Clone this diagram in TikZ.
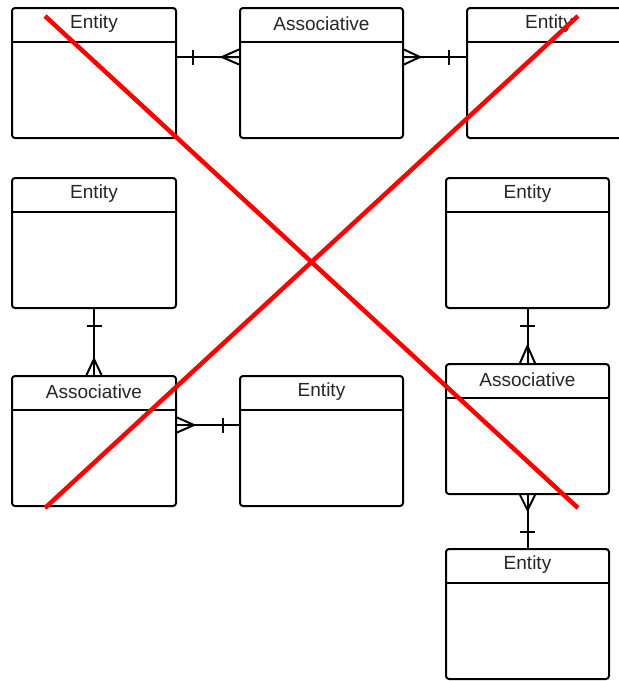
\documentclass[tikz,border=0pt]{standalone}
\usepackage{fontspec}
\setmainfont{Liberation Sans}
\usepackage{tikz}
\usetikzlibrary{calc}

\tikzset{
    erbox/.style={draw, line width=2pt, rounded corners=3pt, minimum width=164pt, minimum height=130pt,
        path picture={\draw[line width=2pt] ([yshift=-33.5pt]path picture bounding box.north west) -- ([yshift=-33.5pt]path picture bounding box.north east);}},
    ertitle/.style={anchor=center, font=\fontsize{19}{22}\selectfont, text=black!85},
    rel/.style={line width=2pt},
    cross/.style={line width=4.5pt, red}
}

\begin{document}
\begin{tikzpicture}[x=1pt, y=-1pt]
    \clip (0,0) rectangle (619,681);
    \fill[white] (0,0) rectangle (619,681);

    % Boxes
    \node[erbox] (e1) at (94,73) {};
    \node[erbox, minimum width=163pt] (a1) at (321.5,73) {};
    \node[erbox] (e2) at (549,73) {};
    \node[erbox] (e3) at (94,243) {};
    \node[erbox] (a2) at (94,441) {};
    \node[erbox, minimum width=163pt] (e4) at (321.5,441) {};
    \node[erbox, minimum width=163pt] (e5) at (527.5,243) {};
    \node[erbox, minimum width=163pt] (a3) at (527.5,429) {};
    \node[erbox, minimum width=163pt] (e6) at (527.5,614) {};

    % Titles
    \node[ertitle] at ([yshift=-16.5pt]e1.north) {Entity};
    \node[ertitle] at ([yshift=-16.5pt]a1.north) {Associative};
    \node[ertitle] at ([yshift=-16.5pt]e2.north) {Entity};
    \node[ertitle] at ([yshift=-16.5pt]e3.north) {Entity};
    \node[ertitle] at ([yshift=-16.5pt]a2.north) {Associative};
    \node[ertitle] at ([yshift=-16.5pt]e4.north) {Entity};
    \node[ertitle] at ([yshift=-16.5pt]e5.north) {Entity};
    \node[ertitle] at ([yshift=-16.5pt]a3.north) {Associative};
    \node[ertitle] at ([yshift=-16.5pt]e6.north) {Entity};

    % Top row links
    \coordinate (p1) at ([yshift=16pt]e1.east);
    \coordinate (q1) at ([yshift=16pt]a1.west);
    \draw[rel] (p1) -- (q1);
    \draw[rel] ([xshift=16pt]p1) ++(0,-7.5) -- ++(0,15);
    \draw[rel] (q1) -- ++(-17,0) -- ++(17,-7.5);
    \draw[rel] (q1) ++(-17,0) -- ++(17,7.5);

    \coordinate (p2) at ([yshift=16pt]a1.east);
    \coordinate (q2) at ([yshift=16pt]e2.west);
    \draw[rel] (p2) -- (q2);
    \draw[rel] (p2) -- ++(16,0) -- ++(-16,-7.5);
    \draw[rel] (p2) ++(16,0) -- ++(-16,7.5);
    \draw[rel] ([xshift=-17pt]q2) ++(0,-7.5) -- ++(0,15);

    % Left column link
    \draw[rel] (e3.south) -- (a2.north);
    \draw[rel] ([yshift=-17pt]e3.south) ++(-7.5,0) -- ++(15,0);
    \draw[rel] (a2.north) ++(-7.5,0) -- ++(7.5,-16) -- ++(7.5,16);

    % Middle row link
    \coordinate (p3) at ([yshift=16pt]a2.east);
    \coordinate (q3) at ([yshift=16pt]e4.west);
    \draw[rel] (p3) -- (q3);
    \draw[rel] (p3) ++(0,-7.5) -- ++(17,7.5) -- ++(-17,7.5);
    \draw[rel] ([xshift=-16pt]q3) ++(0,-7.5) -- ++(0,15);

    % Right column links
    \draw[rel] (e5.south) -- (a3.north);
    \draw[rel] ([yshift=-17pt]e5.south) ++(-7.5,0) -- ++(15,0);
    \draw[rel] (a3.north) ++(-7.5,0) -- ++(7.5,-17) -- ++(7.5,17);

    \draw[rel] (a3.south) -- (e6.north);
    \draw[rel] (a3.south) ++(-7.5,0) -- ++(7.5,15) -- ++(7.5,-15);
    \draw[rel] ([yshift=16pt]e6.north) ++(-7.5,0) -- ++(15,0);

    % Red cross
    \coordinate (r1) at (45,16);
    \coordinate (r2) at (578,508);
    \coordinate (r3) at (45,508);
    \coordinate (r4) at (578,16);
    \draw[cross] (r1) -- (r2);
    \draw[cross] (r3) -- (r4);
\end{tikzpicture}
\end{document}
